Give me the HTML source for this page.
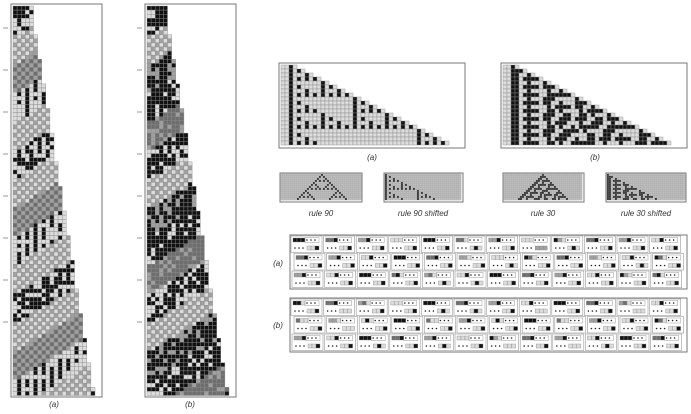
<!DOCTYPE html>
<html><head><meta charset="utf-8"><style>
body{margin:0;background:#fff;width:691px;height:414px;overflow:hidden;font-family:"Liberation Sans",sans-serif}
svg{position:absolute;left:0;top:0}
.lb{font-size:8px;font-style:italic;fill:#333;text-anchor:middle}
</style></head><body>
<svg id="s" width="691" height="414"></svg>
<script>
const S=document.getElementById('s');const NS='http://www.w3.org/2000/svg';
const ruleNumbers=[90,30];
const panelLabels=['(a)','(b)','(a)','(b)','rule 90','rule 90 shifted','rule 30','rule 30 shifted','(a)','(b)'];
function el(t,a,p){const e=document.createElementNS(NS,t);for(const k in a)e.setAttribute(k,a[k]);(p||S).appendChild(e);return e;}
function g(name){const e=el('g',{});return e;}
const COL=['#dcdcdc','#a0a0a0','#6e6e6e','#111'];
function cell(p,x,y,s,v){el('rect',{x:x,y:y,width:s,height:s,fill:COL[v],stroke:'#8a8a8a','stroke-width':0.4},p);}
function box(p,x,y,w,h){el('rect',{x:x,y:y,width:w,height:h,fill:'none',stroke:'#777','stroke-width':1},p);}
function label(x,y,t,n){const e=el('text',{x:x,y:y,class:'lb'});e.textContent=t;}
function hash(a,b){let h=(a*374761393+b*668265263)>>>0;h=((h^(h>>>13))*1274126177)>>>0;return (h^(h>>>16))%1000/1000;}
function tall(x0,name,dark){const p=g(name);box(p,x0,4,91,393);
 const rows=95,s=4.1;
 for(let r=0;r<rows;r++){const w=Math.min(20,5+Math.floor(r/6.2));
  for(let c=0;c<w;c++){const t=r+c*0.6;const b=Math.floor(t/7)%5;let v=0;const h=hash(r,c+(dark?50:0));
   if(b==0)v=h<(dark?0.3:0.15)?3:0;
   else if(b==1)v=(r+c)%2?1:0;
   else if(b==2)v=dark?(h<0.3?3:1):((r+c)%2?2:1);
   else if(b==3)v=dark?(h<0.6?3:0):(c%2?(h<0.5?3:0):0);
   else v=dark?(h<0.4?2:1):((r+c)%2?1:0);
   cell(p,x0+2+c*s,6+r*s,s,v);}}
 for(let i=0;i<8;i++){el('line',{x1:x0-8,y1:28+i*42,x2:x0-3,y2:28+i*42,stroke:'#555','stroke-width':0.6},p);}
}
tall(11,'tall-panel-a',false);tall(145,'tall-panel-b',true);
label(54,407,panelLabels[0],'label-a-left');label(190,407,panelLabels[1],'label-b-left');
function ca(rule,rows,w,start){let row=new Array(w).fill(0);row[start]=1;const out=[row];
 for(let r=1;r<rows;r++){const n=new Array(w).fill(0);for(let c=0;c<w;c++){const l=row[c-1]||0,m=row[c],rr=row[c+1]||0;n[c]=(rule>>(l*4+m*2+rr))&1;}out.push(n);row=n;}return out;}
function bigTri(x,y,rule,name){const p=g(name);box(p,x,y,186,85);const rows=20,s=4;
 const d=ca(rule,rows,rows*2+2,rows);
 for(let r=0;r<rows;r++){for(let c=0;c<4+2*r&&c<46;c++){const k=c-2;let v=0;if(k>=0&&k<=2*r)v=d[r][rows-r+k]?3:0;if(c==2)v=3;cell(p,x+2+c*s,y+2+r*s,s,v);}}}
bigTri(279,63,ruleNumbers[0],'triangle-a');bigTri(501,63,ruleNumbers[1],'triangle-b');
label(372,160,panelLabels[2],'label-a-top');label(595,160,panelLabels[3],'label-b-top');
function centered(x,y,w,h,rule,name){const p=g(name);box(p,x,y,w,h);const s=2;const cols=Math.floor((w-2)/s),rows=Math.floor((h-2)/s);
 const d=ca(rule,rows,cols,Math.floor(cols/2));for(let r=0;r<rows;r++)for(let c=0;c<cols;c++)cell(p,x+1+c*s,y+1+r*s,s,d[r][c]?3:0);}
function smallShift(x,y,w,h,rule,name){const p=g(name);box(p,x,y,w,h);const s=2;const cols=Math.floor((w-2)/s),rows=Math.floor((h-2)/s);
 const d=ca(rule,rows,cols*2+rows,rows);for(let r=0;r<rows;r++)for(let c=0;c<cols;c++){let v=0;if(c<=2*r)v=d[r][rows-r+c]?3:0;if(c==0)v=3;cell(p,x+1+c*s,y+1+r*s,s,v);}}
centered(280,173,82,29,ruleNumbers[0],'rule90');smallShift(384,173,79,29,ruleNumbers[0],'rule90-shifted');
centered(503,173,81,29,ruleNumbers[1],'rule30');smallShift(606,173,80,29,ruleNumbers[1],'rule30-shifted');
label(321,216,panelLabels[4],'label-rule90');label(423,216,panelLabels[5],'label-rule90-shifted');
label(543,216,panelLabels[6],'label-rule30');label(646,216,panelLabels[7],'label-rule30-shifted');
function table(y0,name,seed){const p=g(name);box(p,290,y0,397,54);
 for(let r=0;r<3;r++){const off=r==0?0:(r==1?3:1);for(let i=0;i<12;i++){const x=291+off+i*32.6,y=y0+1+r*17.5;
  el('rect',{x:x,y:y,width:31,height:16.5,fill:'#fff',stroke:'#999','stroke-width':0.6},p);
  const h1=hash(i+seed,r),h2=hash(r+seed,i+7);
  const a=[3,2,1,0][(i+r)%4],b=[1,0,2,3][(i*3+r)%4];
  cell(p,x+2,y+2,4,a);cell(p,x+6,y+2,4,h1<0.5?a:b);cell(p,x+10,y+2,4,h1<0.3?3:0);
  for(let k=0;k<3;k++){el('circle',{cx:x+16+k*4,cy:y+4,r:0.8,fill:'#222'},p);el('circle',{cx:x+4+k*4,cy:y+12,r:0.8,fill:'#222'},p);}
  el('rect',{x:x+14,y:y+1.5,width:14,height:5,fill:'none',stroke:'#999','stroke-width':0.5},p);
  for(let k=0;k<3;k++){let v=k==2&&h2<0.5?3:(k==1&&h2>0.8?3:0);if(h2>0.6&&h2<0.7)v=1;cell(p,x+16+k*4,y+10,4,v);}
 }}}
table(235,'rule-table-a',0);table(298,'rule-table-b',5);
label(278,266,panelLabels[8],'label-a-table');label(278,328,panelLabels[9],'label-b-table');
</script></body></html>
